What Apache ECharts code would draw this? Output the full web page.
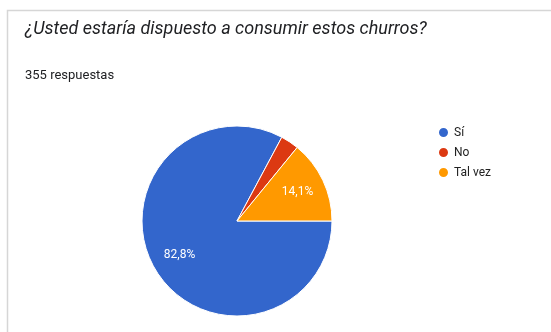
<!DOCTYPE html>
<html>
<head>
<meta charset="utf-8">
<script src="https://cdn.jsdelivr.net/npm/echarts@6/dist/echarts.min.js"></script>
<style>
  html, body { margin: 0; padding: 0; background: #fff; }
  #chart { width: 551px; height: 332px; }
</style>
</head>
<body>
<div id="chart"></div>
<script>
// Survey answers: "¿Usted estaría dispuesto a consumir estos churros?"
const questionTitle = '¿Usted estaría dispuesto a consumir estos churros?';
const responseNote = '355 respuestas';
const answers = ['Sí', 'No', 'Tal vez'];
const counts = [294, 11, 50];
const sliceColors = ['#3366cc', '#dc3912', '#ff9900'];

const total = counts.reduce((a, b) => a + b, 0);
const pieData = answers.map((name, i) => ({
  name,
  value: counts[i],
  itemStyle: { color: sliceColors[i] }
}));

// Percent label in Spanish format; slices too small get no label
function pctLabel(p) {
  if (p.value / total < 0.05) return '';
  return (p.value / total * 100).toFixed(1).replace('.', ',') + '%';
}

const chart = echarts.init(document.getElementById('chart'));
chart.setOption({
  animation: false,
  graphic: [
    {
      type: 'rect',
      shape: { x: 7.5, y: 10.5, width: 700, height: 500 },
      style: { fill: '#fff', stroke: '#d6d6d6', lineWidth: 1.5 },
      z: -10
    },
    {
      type: 'text',
      left: 25, top: 20,
      style: {
        text: questionTitle,
        fill: '#202124',
        font: 'italic 18px Roboto'
      }
    },
    {
      type: 'text',
      left: 25, top: 69,
      style: {
        text: responseNote,
        fill: '#202124',
        font: '13px Roboto'
      }
    }
  ],
  legend: {
    orient: 'vertical',
    left: 437, top: 126,
    padding: 0,
    icon: 'circle',
    itemWidth: 11, itemHeight: 11,
    itemGap: 7,
    textStyle: { fontFamily: 'Roboto', fontSize: 12, color: '#222' },
    data: answers
  },
  series: [
    {
      type: 'pie',
      center: [237, 221],
      radius: 95,
      startAngle: 0,
      clockwise: true,
      label: { show: false },
      labelLine: { show: false },
      itemStyle: { borderColor: '#fff', borderWidth: 1 },
      emphasis: { disabled: true },
      data: pieData
    },
    {
      // transparent overlay that only places the percentage labels
      type: 'pie',
      center: [237, 221],
      radius: [0, 128],
      startAngle: 0,
      clockwise: true,
      silent: true,
      legendHoverLink: false,
      itemStyle: { color: 'rgba(0,0,0,0)', borderWidth: 0 },
      label: {
        show: true,
        position: 'inside',
        formatter: pctLabel,
        color: '#fff',
        fontFamily: 'Roboto',
        fontSize: 12
      },
      labelLine: { show: false },
      emphasis: { disabled: true },
      data: answers.map((name, i) => ({ name, value: counts[i] }))
    }
  ]
});
</script>
</body>
</html>
